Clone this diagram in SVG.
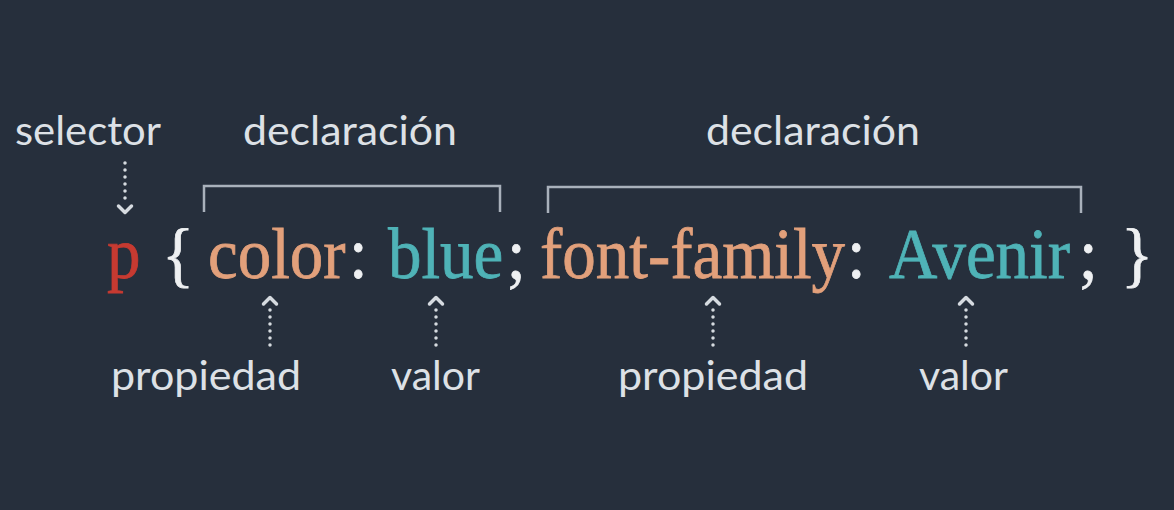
<svg xmlns="http://www.w3.org/2000/svg" width="1174" height="510" viewBox="0 0 1174 510">
<style>
.bg{fill:#262f3c}
.lbl{font-family:Lato,"Open Sans",sans-serif;font-size:40px;fill:#dde1e6}
.code{font-family:"Liberation Serif","Times New Roman",serif;font-size:67px;stroke-width:0.7}
.sel{fill:#c63a31;stroke:#c63a31}
.prop{fill:#e2a07b;stroke:#e2a07b}
.val{fill:#4fb3b7;stroke:#4fb3b7}
.punc{fill:#eef0f2;stroke:#eef0f2}
.brk{fill:none;stroke:#a9b1bb;stroke-width:2.5}
.dots{fill:none;stroke:#d6dbe0;stroke-width:3.5;stroke-linecap:round;stroke-dasharray:0 7}
.head{fill:none;stroke:#d6dbe0;stroke-width:3.5;stroke-linecap:round;stroke-linejoin:round}
</style>
<rect class="bg" x="0" y="0" width="1174" height="510"/>
<g id="code" transform="translate(0 278) scale(1 1.08) translate(0 -278)">
<text class="code sel" x="107" y="278">p</text>
<text class="code punc" x="162" y="278">{</text>
<text class="code prop" x="208" y="278">color</text>
<text class="code punc" x="349" y="278">:</text>
<text class="code val" x="388" y="278">blue</text>
<text class="code punc" x="507" y="278">;</text>
<text class="code prop" x="540" y="278">font-family</text>
<text class="code punc" x="847" y="278">:</text>
<text class="code val" x="889" y="278">Avenir</text>
<text class="code punc" x="1079" y="278">;</text>
<text class="code punc" x="1121" y="278">}</text>
</g>
<g id="selector"><text class="lbl" x="15" y="145" textLength="146" lengthAdjust="spacingAndGlyphs">selector</text></g>
<g id="declaracion1"><text class="lbl" x="243" y="145" textLength="214" lengthAdjust="spacingAndGlyphs">declaración</text></g>
<g id="declaracion2"><text class="lbl" x="706" y="145" textLength="214" lengthAdjust="spacingAndGlyphs">declaración</text></g>
<g id="propiedad1"><text class="lbl" x="111" y="390" textLength="190" lengthAdjust="spacingAndGlyphs">propiedad</text></g>
<g id="valor1"><text class="lbl" x="391" y="390" textLength="89" lengthAdjust="spacingAndGlyphs">valor</text></g>
<g id="propiedad2"><text class="lbl" x="618" y="390" textLength="190" lengthAdjust="spacingAndGlyphs">propiedad</text></g>
<g id="valor2"><text class="lbl" x="919" y="390" textLength="89" lengthAdjust="spacingAndGlyphs">valor</text></g>
<g id="connectors">
<path class="brk" d="M204 212 V186 H500 V212"/>
<path class="brk" d="M548 213 V187 H1081 V213"/>
<path class="dots" d="M125 163 V205"/>
<path class="head" d="M118.5 206 L125 212.5 L131.5 206"/>
<path class="dots" d="M270 345 V306"/>
<path class="head" d="M263.5 304 L270 297.5 L276.5 304"/>
<path class="dots" d="M436 345 V306"/>
<path class="head" d="M429.5 304 L436 297.5 L442.5 304"/>
<path class="dots" d="M713 345 V306"/>
<path class="head" d="M706.5 304 L713 297.5 L719.5 304"/>
<path class="dots" d="M966 345 V306"/>
<path class="head" d="M959.5 304 L966 297.5 L972.5 304"/>
</g>
</svg>
